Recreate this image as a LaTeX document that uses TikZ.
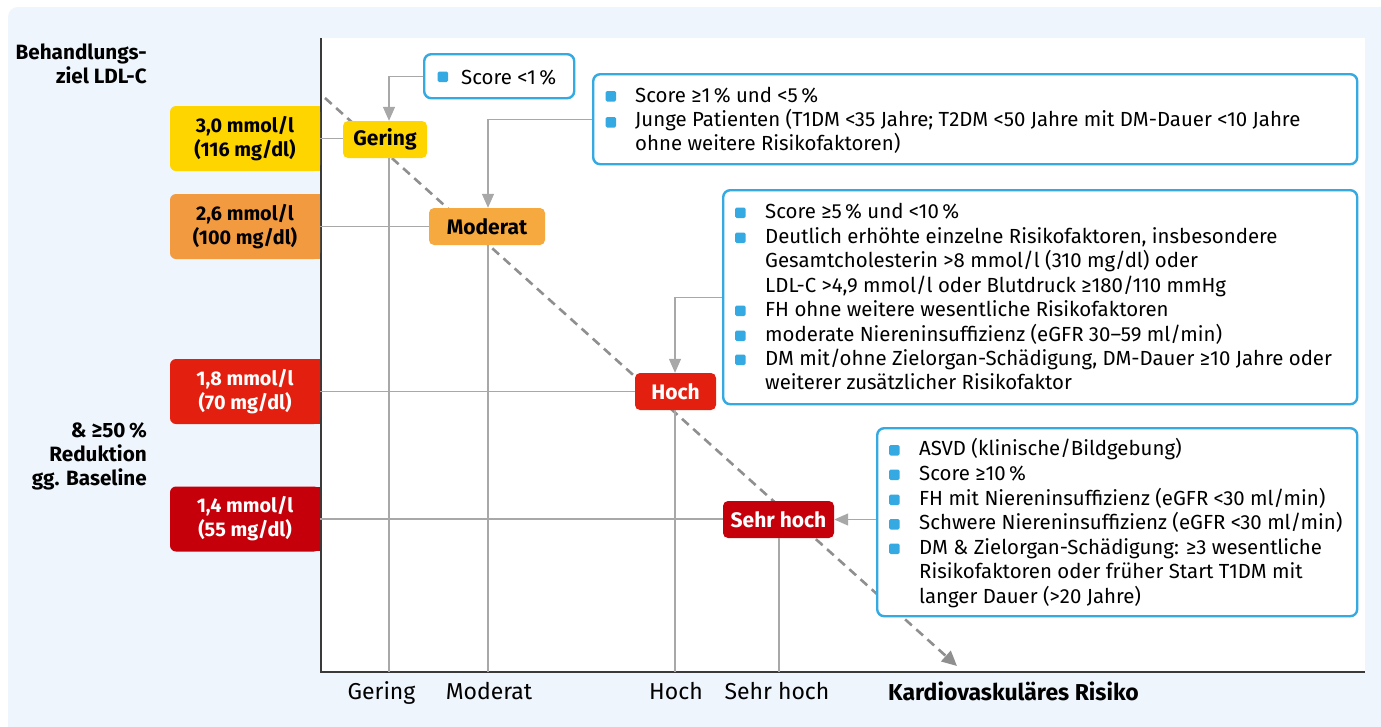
\documentclass[tikz,border=0pt]{standalone}
\usepackage{fontspec}
\setmainfont{Fira Sans}
\usetikzlibrary{arrows.meta}
\definecolor{bg}{HTML}{EEF5FC}
\definecolor{yel}{HTML}{FFD500}
\definecolor{ora}{HTML}{F29A3F}
\definecolor{oral}{HTML}{F6A93F}
\definecolor{redA}{HTML}{E3200F}
\definecolor{redB}{HTML}{C5000A}
\definecolor{bblue}{HTML}{35A9E1}
\definecolor{lgray}{HTML}{A8A8A8}
\definecolor{dgray}{HTML}{8F8F8F}
\definecolor{axisc}{HTML}{3A3A3A}
\begin{document}
\begin{tikzpicture}[x=1pt,y=-1pt,
  font=\fontsize{20.4}{24}\selectfont,
  lvl/.style={rounded corners=5pt, minimum height=37pt, inner sep=0pt, font=\fontsize{21}{24}\selectfont\bfseries},
  lbox/.style={rounded corners=6pt, minimum width=150pt, minimum height=65pt, inner sep=0pt, align=center, font=\fontsize{19.8}{24}\selectfont\bfseries},
  ibox/.style={draw=bblue, line width=2.4pt, fill=white, rounded corners=7pt, anchor=north west, inner sep=0pt},
  gline/.style={draw=lgray, line width=1.3pt},
  conn/.style={draw=lgray, line width=1.3pt, -{Triangle[length=14pt,width=12pt]}},
  txt/.style={anchor=base west, inner sep=0pt},
  lab/.style={anchor=base east, inner sep=0pt, font=\fontsize{20.7}{24}\selectfont\bfseries},
  axl/.style={anchor=base, inner sep=0pt, font=\fontsize{23}{24}\selectfont},
  blt/.style={fill=bblue, rounded corners=1.5pt},
]
\useasboundingbox (0,0) rectangle (1381,726);
\fill[white] (0,0) rectangle (1381,726);
\fill[bg, rounded corners=10pt] (8,7) rectangle (1400,745);
\fill[white] (321,38) rectangle (1365,672);

% dashed trend arrow
\coordinate (ds) at (325,98);
\coordinate (de) at (957,666);
\draw[dgray, line width=2.6pt, dash pattern=on 9pt off 6pt, -{Triangle[length=15pt,width=14pt]}] (ds) -- (de);

% axes
\coordinate (O) at (321,672);
\coordinate (ytop) at (321,38);
\coordinate (xend) at (1365,672);
\draw[axisc, line width=1.6pt] (ytop) -- (O) -- (xend);

% left target boxes
\fill[yel] (260,106) rectangle (320,171);
\node[lbox, fill=yel] (l1) at (245,138.5) {3,0 mmol/l\\(116 mg/dl)};
\fill[ora] (260,194) rectangle (320,259);
\node[lbox, fill=ora] (l2) at (245,226.5) {2,6 mmol/l\\(100 mg/dl)};
\fill[redA] (260,359) rectangle (320,424);
\node[lbox, fill=redA, text=white] (l3) at (245,391.5) {1,8 mmol/l\\(70 mg/dl)};
\fill[redB] (260,487) rectangle (320,551);
\node[lbox, fill=redB, text=white] (l4) at (245,519) {1,4 mmol/l\\(55 mg/dl)};

% level nodes
\node[lvl, fill=yel, minimum width=84pt] (gering) at (385,139.5) {Gering};
\node[lvl, fill=oral, minimum width=116pt] (moderat) at (487,226.5) {Moderat};
\node[lvl, fill=redA, text=white, minimum width=81pt] (hoch) at (675.5,391.5) {Hoch};
\node[lvl, fill=redB, text=white, minimum width=111pt] (sehr) at (778.5,519.5) {Sehr hoch};

\coordinate (gx) at (389,672);
\coordinate (mx) at (488,672);
\coordinate (hx) at (675,672);
\coordinate (sx) at (779,672);

% grid lines
\draw[gline] (l1.east) -- (l1.east -| gering.west);
\draw[gline] (l2.east) -- (l2.east -| moderat.west);
\draw[gline] (l3.east) -- (l3.east -| hoch.west);
\draw[gline] (l4.east) -- (l4.east -| sehr.west);
\draw[gline] (gx |- gering.south) -- (gx);
\draw[gline] (mx |- moderat.south) -- (mx);
\draw[gline] (hx |- hoch.south) -- (hx);
\draw[gline] (sx |- sehr.south) -- (sx);

% info boxes
\node[ibox, minimum width=150pt, minimum height=44pt] (b1) at (423,53) {};
\node[ibox, minimum width=764pt, minimum height=90pt] (b2) at (592,73) {};
\node[ibox, minimum width=634pt, minimum height=214pt] (b3) at (722,189) {};
\node[ibox, minimum width=480pt, minimum height=188pt] (b4) at (876,427) {};

% connectors
\draw[conn] (b1.west) -| (gx |- gering.north);
\draw[conn] (b2.west) -| (mx |- moderat.north);
\draw[conn] (b3.west) -| (hx |- hoch.north);
\draw[conn] (b4.west |- sehr.east) -- (sehr.east);

% box 1 text
\fill[blt] (437.5,71.5) rectangle (448,82);
\node[txt] (t1) at (461,84) {Score <1\,\%};

% box 2 text
\fill[blt] (605.5,91) rectangle (616,101.5);
\fill[blt] (605.5,117) rectangle (616,127.5);
\node[txt] (t2a) at (635,102.5) {Score ≥1\,\% und <5\,\%};
\node[txt] (t2b) at (635,126.5) {Junge Patienten (T1DM <35 Jahre; T2DM <50 Jahre mit DM-Dauer <10 Jahre};
\node[txt] (t2c) at (635,150.5) {ohne weitere Risikofaktoren)};

% box 3 text
\foreach \y in {218,243,316,341,365}
  \fill[blt] (735,\y-10.5) rectangle (745.5,\y);
\node[txt] (t3a) at (765,218) {Score ≥5\,\% und <10\,\%};
\node[txt] (t3b) at (765,243) {Deutlich erhöhte einzelne Risikofaktoren, insbesondere};
\node[txt] (t3c) at (765,267) {Gesamtcholesterin >8 mmol/l (310 mg/dl) oder};
\node[txt] (t3d) at (765,292) {LDL-C >4,9 mmol/l oder Blutdruck ≥180/110 mmHg};
\node[txt] (t3e) at (765,316) {FH ohne weitere wesentliche Risikofaktoren};
\node[txt] (t3f) at (765,341) {moderate Niereninsuffizienz (eGFR 30–59 ml/min)};
\node[txt] (t3g) at (765,365) {DM mit/ohne Zielorgan-Schädigung, DM-Dauer ≥10 Jahre oder};
\node[txt] (t3h) at (765,389) {weiterer zusätzlicher Risikofaktor};

% box 4 text
\foreach \y in {455.5,480,505,529.5,554}
  \fill[blt] (889,\y-10.5) rectangle (899.5,\y);
\node[txt] (t4a) at (919,455.5) {ASVD (klinische/Bildgebung)};
\node[txt] (t4b) at (919,480) {Score ≥10\,\%};
\node[txt] (t4c) at (919,505) {FH mit Niereninsuffizienz (eGFR <30 ml/min)};
\node[txt] (t4d) at (919,529.5) {Schwere Niereninsuffizienz (eGFR <30 ml/min)};
\node[txt] (t4e) at (919,554) {DM \& Zielorgan-Schädigung: ≥3 wesentliche};
\node[txt] (t4f) at (919,578.5) {Risikofaktoren oder früher Start T1DM mit};
\node[txt] (t4g) at (919,603) {langer Dauer (>20 Jahre)};

% left labels
\node[lab] (y1) at (147,59) {Behandlungs-};
\node[lab] (y2) at (147,83) {ziel LDL-C};
\node[lab] (y3) at (147,437) {\& ≥50\,\%};
\node[lab] (y4) at (147,461.5) {Reduktion};
\node[lab] (y5) at (147,485.5) {gg. Baseline};

% axis labels
\node[axl] (xg) at (381.5,699) {Gering};
\node[axl] (xm) at (489,699) {Moderat};
\node[axl] (xh) at (676,699) {Hoch};
\node[axl] (xs) at (777,699) {Sehr hoch};
\node[anchor=base west, inner sep=0pt, font=\fontsize{23}{24}\selectfont\bfseries] (xt) at (888,700) {Kardiovaskuläres Risiko};
\end{tikzpicture}
\end{document}
